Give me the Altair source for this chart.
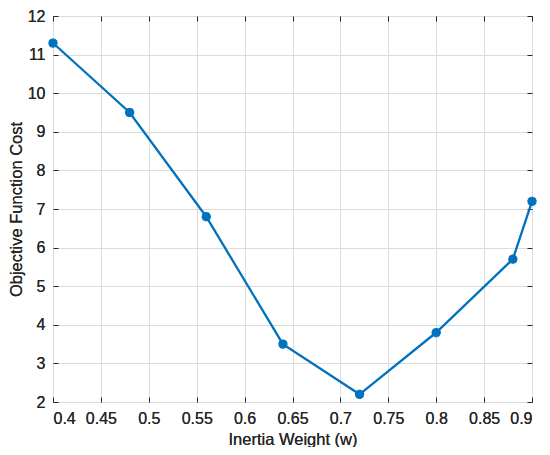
import altair as alt
import pandas as pd

# data
inertia_w = [0.40, 0.48, 0.56, 0.64, 0.72, 0.80, 0.88, 0.90]
obj_cost = [11.3, 9.5, 6.8, 3.5, 2.2, 3.8, 5.7, 7.2]
x_ticks = [0.4, 0.45, 0.5, 0.55, 0.6, 0.65, 0.7, 0.75, 0.8, 0.85, 0.9]
y_ticks = [2, 3, 4, 5, 6, 7, 8, 9, 10, 11, 12]

df = pd.DataFrame({"w": inertia_w, "cost": obj_cost})

FONT = "Liberation Sans"
AX = "#262626"
BLUE = "#0072BD"
ASTERISK = ("M-1,0L1,0M0,-1L0,1M-0.72,-0.72L0.72,0.72M-0.72,0.72L0.72,-0.72")

xs = alt.Scale(domain=[0.4, 0.9], nice=False, zero=False)
ys = alt.Scale(domain=[2, 12], nice=False, zero=False)

axis_style = dict(
    grid=True, gridColor="#dcdcdc", gridWidth=1, tickSize=0, domain=False,
    labelPadding=8, labelFont=FONT, labelFontSize=16, labelColor=AX,
    labelOverlap=False, labelBound=False,
    titleFont=FONT, titleFontSize=16.5, titleFontWeight="normal", titleColor=AX,
)

main = alt.Chart(df).encode(
    x=alt.X("w:Q", scale=xs, axis=alt.Axis(
        values=x_ticks, format="~g", title="Inertia Weight (w)", orient="bottom",
        titlePadding=5, **axis_style)),
    y=alt.Y("cost:Q", scale=ys, axis=alt.Axis(
        values=y_ticks, format="d", title="Objective Function Cost", orient="left",
        titlePadding=3, **axis_style)),
)

line = main.mark_line(color=BLUE, strokeWidth=2.3)
points = main.mark_point(
    shape=ASTERISK, filled=False, color=BLUE, size=85, strokeWidth=3, opacity=1
)

def tick_axis(orient):
    return alt.Axis(values=x_ticks if orient in ("top", "bottom") else y_ticks,
                    orient=orient, offset=-5, tickSize=5, tickColor=AX, tickWidth=1,
                    labels=False, domain=False, grid=False, title=None)

tick_base = alt.Chart(df)
ticks_bl = tick_base.mark_line(opacity=0).encode(
    x=alt.X("w:Q", scale=xs, axis=tick_axis("bottom")),
    y=alt.Y("cost:Q", scale=ys, axis=tick_axis("left")),
)
ticks_tr = tick_base.mark_line(opacity=0).encode(
    x=alt.X("w:Q", scale=xs, axis=tick_axis("top")),
    y=alt.Y("cost:Q", scale=ys, axis=tick_axis("right")),
)

chart = alt.layer(line, points, ticks_bl, ticks_tr).resolve_axis(
    x="independent", y="independent"
).properties(
    width=479, height=386,
    autosize=alt.AutoSizeParams(type="none"),
    padding={"left": 45, "top": 8, "right": 10, "bottom": 45},
).configure_view(stroke=AX, strokeWidth=1.2).configure(background="white")

chart.save("out.html", embed_options={"renderer": "svg", "actions": False})
